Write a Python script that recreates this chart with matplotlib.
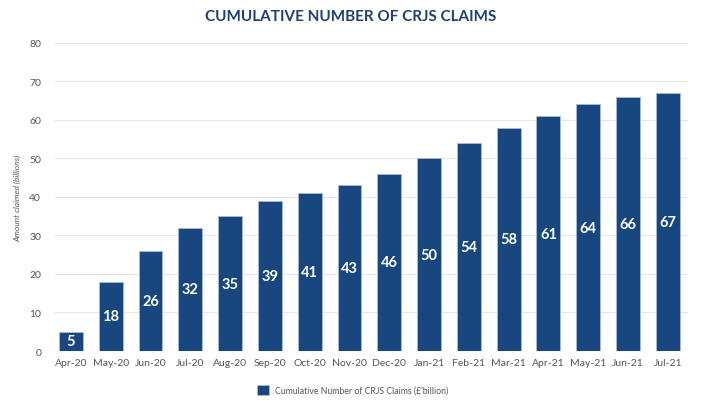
import matplotlib.pyplot as plt
import numpy as np

months = ["Apr-20", "May-20", "Jun-20", "Jul-20", "Aug-20", "Sep-20", "Oct-20", "Nov-20",
          "Dec-20", "Jan-21", "Feb-21", "Mar-21", "Apr-21", "May-21", "Jun-21", "Jul-21"]
claims = [5, 18, 26, 32, 35, 39, 41, 43, 46, 50, 54, 58, 61, 64, 66, 67]
yticks = [0, 10, 20, 30, 40, 50, 60, 70, 80]

plt.rcParams["font.family"] = ["Lato", "DejaVu Sans"]

bar_color = "#17477e"
title_color = "#1f3f6e"

fig = plt.figure(figsize=(7.01, 4.06), dpi=100)
ax = fig.add_axes([0.0785, 0.133, 0.9025, 0.759])

x = np.arange(len(months))
bars = ax.bar(x, claims, width=0.6, color=bar_color, edgecolor="#a9bcd6",
              linewidth=0.6, label="Cumulative Number of CRJS Claims (£'billion)", zorder=3)

for xi, v in zip(x, claims):
    ax.text(xi, v / 2, str(v), ha="center", va="center", color="white",
            fontsize=10.5, fontweight="bold", zorder=4)

ax.set_xlim(-0.4, len(months) - 0.5)
ax.set_ylim(0, 80)
ax.set_yticks(yticks)
ax.set_xticks(x)
ax.set_xticklabels(months)
ax.tick_params(axis="both", length=0, labelsize=7.5, labelcolor="#555555")
ax.tick_params(axis="y", pad=10)
ax.tick_params(axis="x", pad=5)
ax.grid(axis="y", color="#e6e6e6", linewidth=0.8, zorder=0)
for s in ax.spines.values():
    s.set_visible(False)

ax.set_ylabel("Amount claimed (billions)", fontsize=6, color="#555555",
              style="italic", labelpad=6)

fig.suptitle("CUMULATIVE NUMBER OF CRJS CLAIMS", x=0.5, y=0.975,
             fontsize=11, fontweight="bold", color=title_color)

ax.legend(loc="upper center", bbox_to_anchor=(0.47, -0.085), frameon=False,
          fontsize=6.3, labelcolor="#555555", handlelength=1.4, handleheight=1.4,
          handletextpad=0.6)

fig.savefig("out.png", dpi=100)
